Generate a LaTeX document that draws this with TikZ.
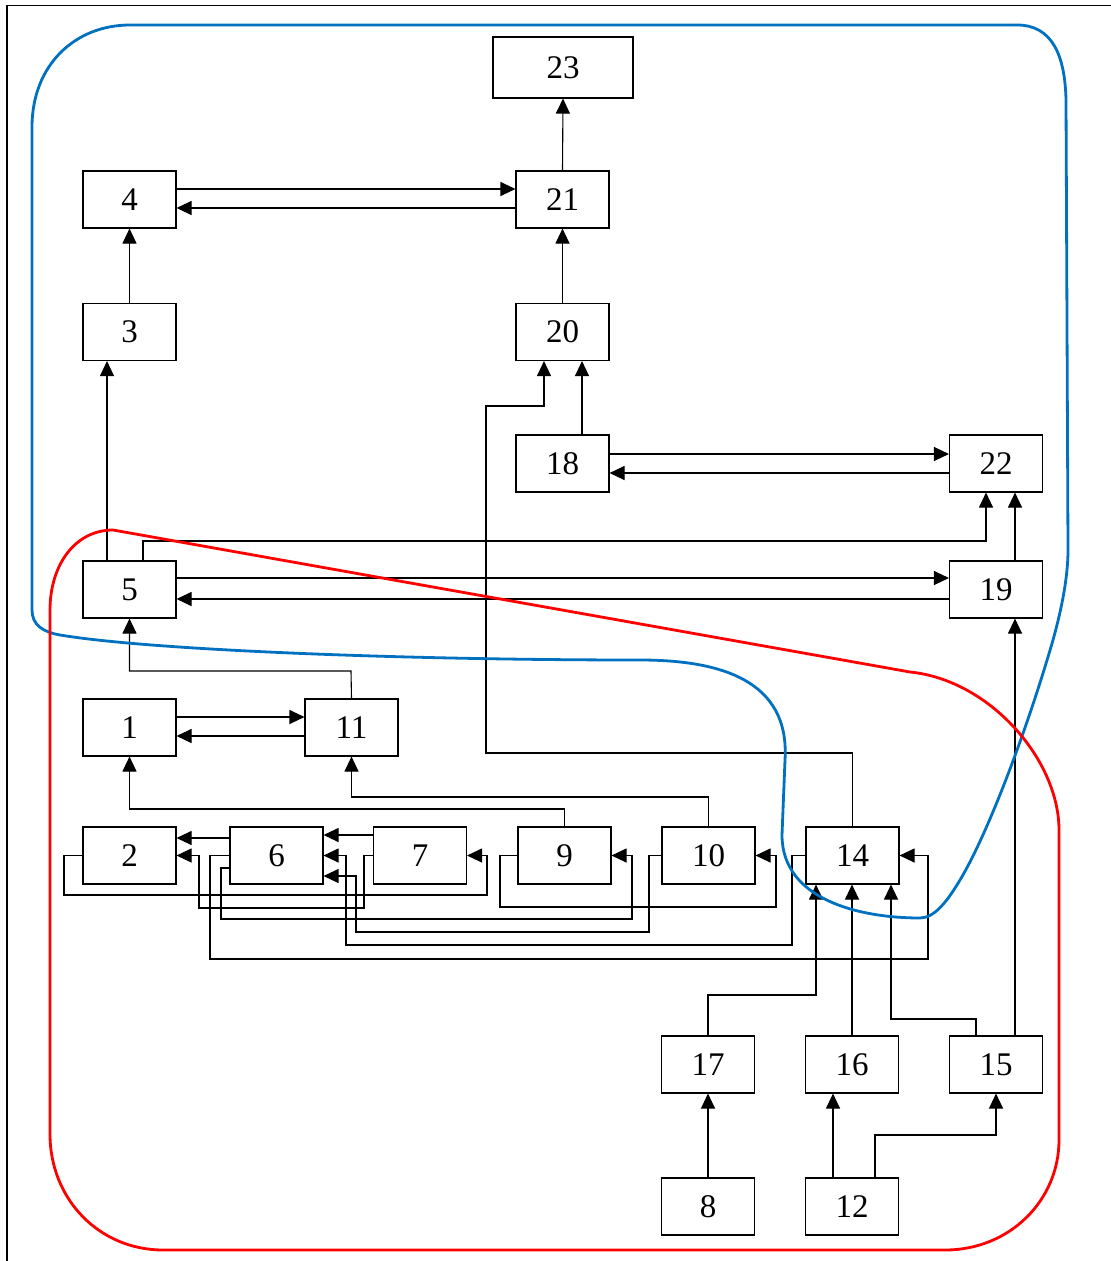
\documentclass[tikz,border=0pt]{standalone}
\usepackage{fontspec}
\setmainfont{Liberation Serif}
\usetikzlibrary{arrows.meta}
\definecolor{bluecurve}{HTML}{0070C0}
\definecolor{redcurve}{HTML}{FF0000}
\begin{document}
\begin{tikzpicture}[x=1pt,y=-1pt,
  box/.style={draw, line width=1.1pt, minimum width=93pt, minimum height=57pt, inner sep=0pt,
    font=\fontsize{33}{33}\selectfont},
  arr/.style={draw, line width=1.1pt, -{Triangle[length=15pt,width=14pt]}},
  conn/.style={draw, line width=1.1pt},
  curve/.style={line width=2.8pt, line join=round}]
\useasboundingbox (0,0) rectangle (1111,1261);
% frame
\draw[line width=1.8pt] (7,1261) -- (7,5.5) -- (1111,5.5);
% nodes
\node[box, minimum width=140pt, minimum height=61pt] (n23) at (563,67.5) {23};
\node[box] (n4) at (129.5,199.5) {4};
\node[box] (n21) at (562.5,199.5) {21};
\node[box] (n3) at (129.5,332) {3};
\node[box] (n20) at (562.5,332) {20};
\node[box] (n18) at (562.5,463.5) {18};
\node[box] (n22) at (996,463.5) {22};
\node[box] (n5) at (129.5,589.5) {5};
\node[box] (n19) at (996,589.5) {19};
\node[box] (n1) at (129.5,727.5) {1};
\node[box] (n11) at (351.5,727.5) {11};
\node[box] (n2) at (129.5,855.5) {2};
\node[box] (n6) at (276.5,855.5) {6};
\node[box] (n7) at (420,855.5) {7};
\node[box] (n9) at (564.5,855.5) {9};
\node[box] (n10) at (708.5,855.5) {10};
\node[box] (n14) at (852.5,855.5) {14};
\node[box] (n17) at (708,1064.5) {17};
\node[box] (n16) at (852,1064.5) {16};
\node[box] (n15) at (996,1064.5) {15};
\node[box] (n8) at (708,1206.5) {8};
\node[box] (n12) at (852,1206.5) {12};
% connectors (upper)
\draw[arr] (n21.north) -- (n23.south);
\draw[arr] (n4.east |- 0,189) -- (n21.west |- 0,189);
\draw[arr] (n21.west |- 0,208) -- (n4.east |- 0,208);
\draw[arr] (n3.north) -- (n4.south);
\draw[arr] (n20.north) -- (n21.south);
\draw[arr] (n18.north -| 582,0) -- (n20.south -| 582,0);
\draw[arr] (n18.east |- 0,454) -- (n22.west |- 0,454);
\draw[arr] (n22.west |- 0,473) -- (n18.east |- 0,473);
\draw[arr] (n5.north -| 107,0) -- (n3.south -| 107,0);
\draw[arr] (n5.north -| 143,0) -- (143,541) -| (n22.south -| 986,0);
\draw[arr] (n5.east |- 0,578) -- (n19.west |- 0,578);
\draw[arr] (n19.west |- 0,599) -- (n5.east |- 0,599);
\draw[arr] (n19.north -| 1015,0) -- (n22.south -| 1015,0);
\draw[arr] (n11.north) -- (351,671) -| (n5.south);
\draw[arr] (n1.east |- 0,717) -- (n11.west |- 0,717);
\draw[arr] (n11.west |- 0,736) -- (n1.east |- 0,736);
\draw[arr] (n9.north) |- (129.5,809) -- (n1.south);
\draw[arr] (n10.north) |- (351.5,797) -- (n11.south);
\draw[arr] (n14.north) |- (486,753) |- (544,406) -- (n20.south -| 544,0);
% connectors (middle row)
\draw[arr] (n6.west |- 0,838) -- (n2.east |- 0,838);
\draw[arr] (n7.west |- 0,835) -- (n6.east |- 0,835);
\draw[arr] (n2.west) -- (64,855.5) |- (487,895) |- (n7.east);
\draw[arr] (n7.west) -- (364,855.5) |- (199,908) |- (n2.east);
\draw[arr] (n6.west) -- (210,855.5) |- (928,959) |- (n14.east);
\draw[arr] (n6.west |- 0,868) -- (221,868) |- (632,919) |- (n9.east);
\draw[arr] (n14.west) -- (792,855.5) |- (346,945) |- (n6.east);
\draw[arr] (n10.west) -- (649,855.5) |- (356,932) |- (n6.east |- 0,876);
\draw[arr] (n9.west) -- (500,855.5) |- (776,907) |- (n10.east);
% connectors (lower)
\draw[arr] (n17.north) |- (816,995) -- (n14.south -| 816,0);
\draw[arr] (n16.north) -- (n14.south -| n16.north);
\draw[arr] (n15.north -| 976,0) |- (891,1019) -- (n14.south -| 891,0);
\draw[arr] (n15.north -| 1015,0) -- (n19.south -| 1015,0);
\draw[arr] (n8.north) -- (n17.south);
\draw[arr] (n12.north -| 833,0) -- (n16.south -| 833,0);
\draw[arr] (n12.north -| 875,0) |- (996,1135) -- (n15.south);
% blue curve
\draw[curve, bluecurve] (32,127) .. controls (32,65) and (75,25) .. (130,25)
  -- (1017,25) .. controls (1052,25) and (1065,55) .. (1066,100)
  -- (1068,550) .. controls (1068,580) and (1060,615) .. (1053,640)
  .. controls (1030,720) and (990,830) .. (960,880)
  .. controls (948,900) and (935,918) .. (920,918)
  .. controls (860,918) and (782,900) .. (782,835)
  -- (785,760) .. controls (790,680) and (720,660) .. (640,660)
  .. controls (400,660) and (150,650) .. (60,635)
  .. controls (43,632) and (32,625) .. (32,610) -- cycle;
% red curve
\draw[curve, redcurve] (113,530) -- (910,672)
  .. controls (990,680) and (1059,760) .. (1059,830)
  -- (1059,1140) .. controls (1059,1200) and (1010,1250) .. (945,1250)
  -- (163,1250) .. controls (100,1250) and (50,1200) .. (50,1134)
  -- (50,610) .. controls (50,565) and (75,530) .. (113,530) -- cycle;
\end{tikzpicture}
\end{document}
